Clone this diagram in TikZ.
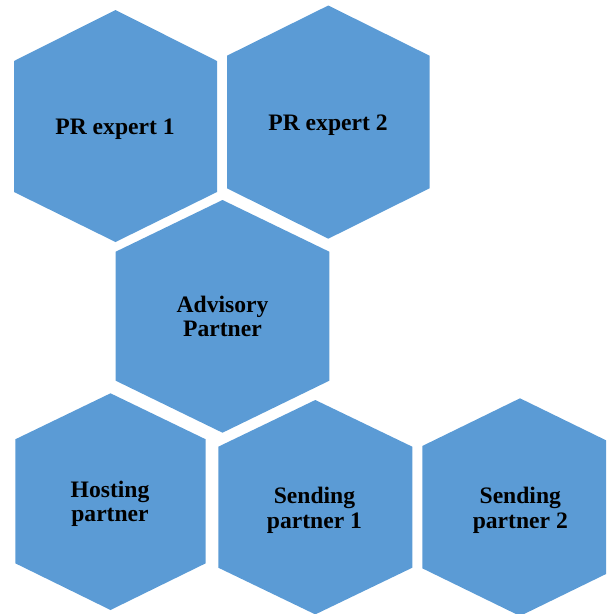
\documentclass[tikz,border=0pt]{standalone}
\usepackage{fontspec}
\setmainfont{Liberation Serif}
\definecolor{hexblue}{HTML}{5B9BD5}
\tikzset{
  hexfill/.style={fill=hexblue, draw=none},
  hexlabel/.style={font=\fontsize{23.6}{24.4}\selectfont\bfseries, align=center, inner sep=0pt, anchor=base, text=black}
}
% #1 xl, #2 xr, #3 top, #4 upper shoulder, #5 lower shoulder, #6 bottom, #7 centre x
\newcommand\hexshape[7]{%
  \path[hexfill] (#7,#3) -- (#2,#4) -- (#2,#5) -- (#7,#6) -- (#1,#5) -- (#1,#4) -- cycle;}
\begin{document}
\begin{tikzpicture}[x=1pt,y=-1pt]
\useasboundingbox (0,0) rectangle (606,614);
\clip (0,0) rectangle (606,614);
\hexshape{14}{217}{10}{61}{192}{242}{115.5}
\hexshape{227}{429.5}{5.5}{55.7}{188.3}{238.7}{328.3}
\hexshape{115.7}{329.3}{200}{251.7}{380.7}{432.7}{222.5}
\hexshape{15.3}{205.7}{393.3}{439.3}{563.3}{610}{110.5}
\hexshape{218.3}{412.3}{400}{446.7}{567.7}{614.4}{315.3}
\hexshape{422.3}{617.7}{398.3}{446}{568.3}{616}{520}
\node[hexlabel] (pr1) at (115,134.3) {PR expert 1};
\node[hexlabel] (pr2) at (328,130) {PR expert 2};
\node[hexlabel] (adv) at (222.5,336.7) {Advisory\\Partner};
\node[hexlabel] (host) at (110,521.7) {Hosting\\partner};
\node[hexlabel] (send1) at (314.5,528.3) {Sending\\partner 1};
\node[hexlabel] (send2) at (520.3,528.3) {Sending\\partner 2};
\end{tikzpicture}
\end{document}
